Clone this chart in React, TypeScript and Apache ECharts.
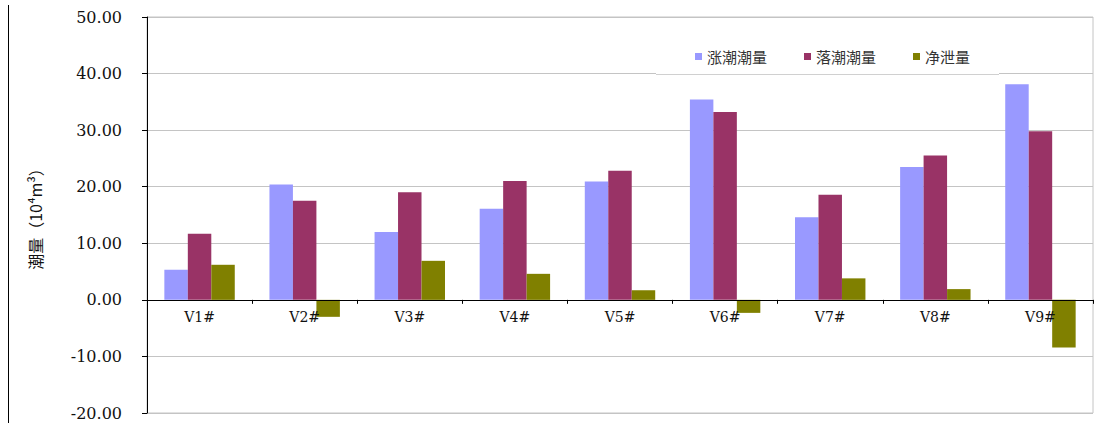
import React, { useEffect, useRef } from "react";
import * as echarts from "echarts";

const categories = ["V1#", "V2#", "V3#", "V4#", "V5#", "V6#", "V7#", "V8#", "V9#"];
const floodVolume = [5.3, 20.4, 12.0, 16.1, 20.9, 35.4, 14.6, 23.5, 38.1];
const ebbVolume = [11.7, 17.5, 19.0, 21.0, 22.8, 33.2, 18.6, 25.5, 29.8];
const netDischarge = [6.2, -3.0, 6.9, 4.6, 1.7, -2.3, 3.8, 1.9, -8.4];
const seriesNames = ["涨潮潮量", "落潮潮量", "净泄量"];
const seriesColors = ["#9999FF", "#993366", "#808000"];
const yMin = -20;
const yMax = 50;

const FONT = "'DejaVu Serif', 'Noto Sans CJK SC', serif";

export default function App() {
  const ref = useRef<HTMLDivElement>(null);
  useEffect(() => {
    const chart = echarts.init(ref.current!, null, { renderer: "svg" });
    const data = [floodVolume, ebbVolume, netDischarge];
    const gridTop = 17;
    const gridBottom = 10;
    const plotH = 423 - gridTop - gridBottom;
    const zeroOffset = -(plotH * (0 - yMin)) / (yMax - yMin);
    chart.setOption({
      animation: false,
      backgroundColor: "#ffffff",
      grid: {
        left: 147,
        right: 8,
        top: gridTop,
        bottom: gridBottom,
        containLabel: false,
        outerBoundsMode: "none",
        show: true,
        borderColor: "#c4c4c4",
        borderWidth: 1,
        backgroundColor: "transparent",
      },
      legend: {
        left: 690,
        top: 44,
        itemWidth: 7,
        itemHeight: 7,
        itemGap: 37,
        icon: "rect",
        textStyle: { fontFamily: "'Noto Sans CJK SC', sans-serif", fontSize: 15, color: "#333" },
        data: seriesNames,
      },
      graphic: [
        {
          type: "rect",
          z: 1,
          shape: { x: 656, y: 18, width: 343, height: 56 },
          style: { fill: "#ffffff" },
        },
        {
          type: "line",
          z: 1,
          shape: { x1: 656, y1: 74.5, x2: 999, y2: 74.5 },
          style: { stroke: "#d0d0d0", lineWidth: 1 },
        },
        {
          type: "line",
          z: 1,
          shape: { x1: 8.5, y1: 5, x2: 8.5, y2: 423 },
          style: { stroke: "#000", lineWidth: 1 },
        },
      ],
      xAxis: {
        type: "category",
        data: categories,
        position: "bottom",
        offset: zeroOffset,
        axisLine: { onZero: false, lineStyle: { color: "#000", width: 1 } },
        axisTick: { show: true, alignWithLabel: false, length: 4, lineStyle: { color: "#000" } },
        axisLabel: { margin: 10, fontFamily: FONT, fontSize: 14, color: "#111" },
        splitLine: { show: false },
        z: 3,
      },
      yAxis: {
        type: "value",
        min: yMin,
        max: yMax,
        interval: 10,
        name: "潮量（10⁴m³）",
        nameLocation: "middle",
        nameRotate: 90,
        nameGap: 104,
        nameTextStyle: { fontFamily: "'Noto Sans CJK SC', sans-serif", fontSize: 16, color: "#111" },
        axisLine: { show: true, lineStyle: { color: "#000", width: 1 } },
        axisTick: { show: true, length: 5, inside: false, lineStyle: { color: "#000" } },
        axisLabel: {
          margin: 25,
          fontFamily: FONT,
          fontSize: 16,
          color: "#111",
          formatter: (v: number) => v.toFixed(2),
        },
        splitLine: { show: true, lineStyle: { color: "#c4c4c4", width: 1 } },
      },
      series: seriesNames.map((name, i) => ({
        name,
        type: "bar",
        data: data[i],
        barGap: "0%",
        barCategoryGap: "33%",
        itemStyle: { color: seriesColors[i] },
      })),
    });
    return () => chart.dispose();
  }, []);
  return (
    <div
      ref={ref}
      style={{ position: "absolute", left: 0, top: 0, width: 1101, height: 423 }}
    />
  );
}
